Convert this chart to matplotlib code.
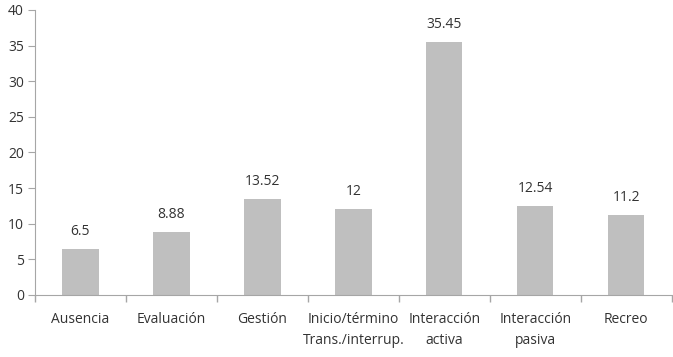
import numpy as np
import matplotlib
matplotlib.use("Agg")
import matplotlib.pyplot as plt

categories = ["Ausencia", "Evaluación", "Gestión", "Inicio/término\nTrans./interrup.",
              "Interacción\nactiva", "Interacción\npasiva", "Recreo"]
values = [6.5, 8.88, 13.52, 12, 35.45, 12.54, 11.2]
value_labels = ["6.5", "8.88", "13.52", "12", "35.45", "12.54", "11.2"]

plt.rcParams["font.family"] = ["Open Sans", "DejaVu Sans"]
text_color = "#333333"
axis_color = "#a6a6a6"

fig = plt.figure(figsize=(6.73, 3.57), dpi=100)
ax = fig.add_axes([0.052, 0.174, 0.946, 0.798])

x = np.arange(len(categories))
ax.bar(x, values, width=0.4, color="#bfbfbf", zorder=2)
for xi, v, lab in zip(x, values, value_labels):
    ax.text(xi, v + 1.4, lab, ha="center", va="bottom", fontsize=10, color=text_color)

ax.set_xlim(-0.5, len(categories) - 0.5)
ax.set_ylim(0, 40)
ax.set_yticks(np.arange(0, 41, 5))

# category labels centred, tick marks between categories
ax.set_xticks(x)
ax.set_xticklabels(categories, fontsize=10, color=text_color, linespacing=1.6)
ax.tick_params(axis="x", which="major", length=0, pad=12)
ax.set_xticks(np.arange(-0.5, len(categories)), minor=True)
ax.tick_params(axis="x", which="minor", length=5, color=axis_color, width=1)
ax.tick_params(axis="y", length=5, color=axis_color, labelsize=10, labelcolor=text_color, pad=3)

for s in ["top", "right"]:
    ax.spines[s].set_visible(False)
for s in ["left", "bottom"]:
    ax.spines[s].set_color(axis_color)

fig.savefig("out.png", dpi=100)
